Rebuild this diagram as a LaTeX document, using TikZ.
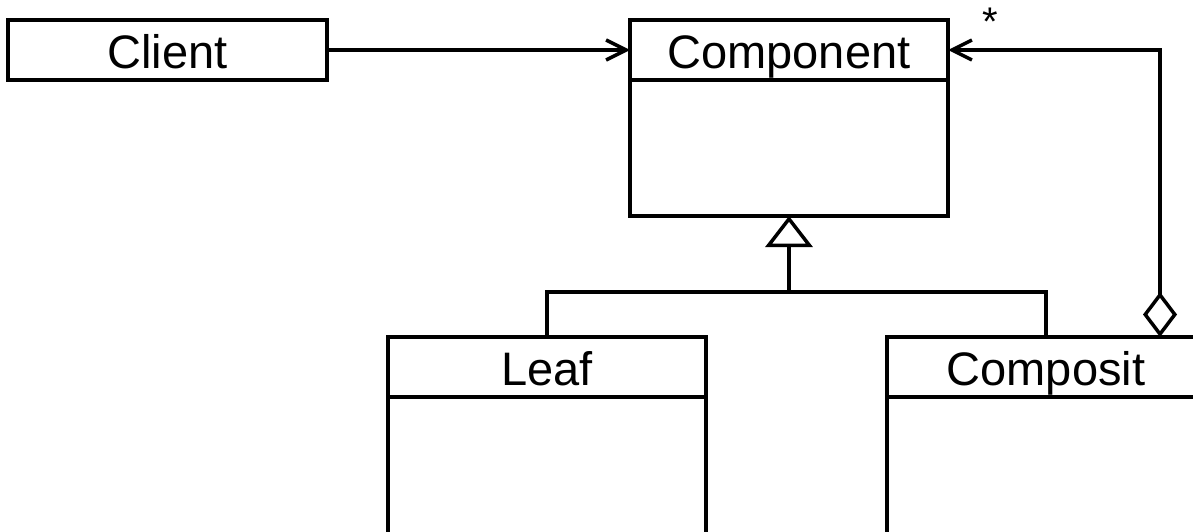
\documentclass[tikz,border=0pt]{standalone}
\usepackage{fontspec}
\setmainfont{Liberation Sans}
\usetikzlibrary{arrows.meta,calc}
\begin{document}
\begin{tikzpicture}[x=1pt,y=-1pt,
  every node/.style={outer sep=0pt, inner sep=0pt},
  line width=3.5pt, line join=miter,
  hdr/.style={draw, minimum width=318pt, minimum height=60pt, text height=36pt, text depth=0pt, font=\fontsize{47}{56}\selectfont},
  classbody/.style={draw, minimum width=318pt, anchor=north},
  assoc/.style={-{Straight Barb[length=20pt,width=20pt]}},
  gen/.style={-{Triangle[length=31pt,width=47pt,fill=white]}},
  agg/.style={{Diamond[length=45pt,width=34pt,fill=white]}-{Straight Barb[length=20pt,width=20pt]}}
]
\useasboundingbox (0,0) rectangle (1193,531);
\clip (0,0) rectangle (1193,531);
% classes
\node[hdr, minimum width=319pt] (client) at (167.5,50) {Client};
\node[hdr] (comp) at (789,50) {Component};
\node[classbody, minimum height=136pt] (compbody) at (comp.south) {};
\node[hdr] (leaf) at (547,367) {Leaf};
\node[classbody, minimum height=180pt] (leafbody) at (leaf.south) {};
\node[hdr] (composit) at (1046,367) {Composit};
\node[classbody, minimum height=180pt] (compositbody) at (composit.south) {};
\node[font=\fontsize{40}{44}\selectfont] (star) at (990,22) {*};
% connectors
\draw[assoc] (client.east) -- (comp.west);
\coordinate (bus) at (789,292);
\draw (leaf.north) |- (bus) -| (composit.north);
\draw[gen] (bus) -- (compbody.south);
\coordinate (aggstart) at ($(composit.north)+(114,0)$);
\draw[agg] (aggstart) |- (comp.east);
\end{tikzpicture}
\end{document}
